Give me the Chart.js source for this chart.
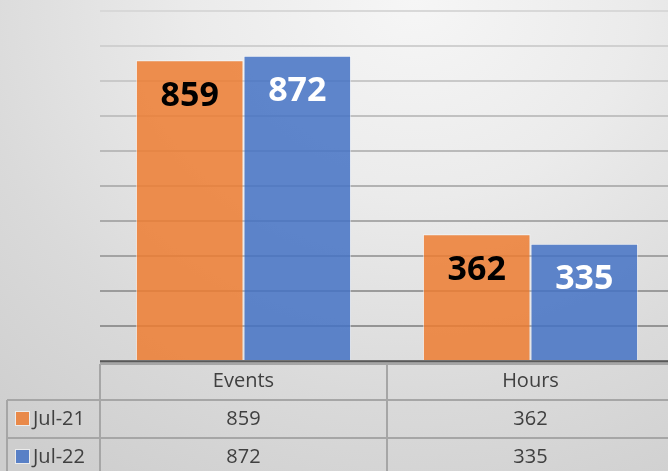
<!DOCTYPE html>
<html>
<head>
  <title>Events and Hours</title>
  <style>
    html, body { margin: 0; padding: 0; overflow: hidden; width: 668px; height: 471px; }
    body { background: radial-gradient(ellipse 95% 120% at 62% 0%, #f6f6f6 0%, #ebebeb 35%, #dadada 70%, #cecece 100%); }
    canvas { display: block; }
  </style>
</head>
<body>
  <canvas id="bar-chart" width="674" height="471"></canvas>

  <script src="https://cdn.jsdelivr.net/npm/chart.js"></script>
  <script>
    // Data
    const categories = ['Events', 'Hours'];
    const seriesNames = ['Jul-21', 'Jul-22'];
    const jul21 = [859, 362];
    const jul22 = [872, 335];
    const seriesColors = ['rgba(237, 125, 49, 0.85)', 'rgba(68, 114, 196, 0.85)'];
    const labelColors = ['#000000', '#ffffff'];

    const textFont = "'Open Sans', 'Noto Sans', sans-serif";

    // Gridlines get darker toward the bottom
    function gridColor(ctx) {
      const v = ctx.tick ? ctx.tick.value : 0;
      const t = v / 1000;
      const c = Math.round(140 + (216 - 140) * t);
      return 'rgb(' + c + ',' + c + ',' + c + ')';
    }

    // Value labels inside the top of each bar
    const barLabels = {
      id: 'barLabels',
      afterDatasetsDraw(chart) {
        const ctx = chart.ctx;
        ctx.save();
        ctx.font = 'bold 34px ' + textFont;
        ctx.textAlign = 'center';
        ctx.textBaseline = 'middle';
        chart.data.datasets.forEach((ds, i) => {
          const meta = chart.getDatasetMeta(i);
          ctx.fillStyle = labelColors[i];
          meta.data.forEach((bar, j) => {
            ctx.fillText(ds.data[j], bar.x, bar.y + 36);
          });
        });
        ctx.restore();
      }
    };

    // Data table under the plot
    const dataTable = {
      id: 'dataTable',
      afterDraw(chart) {
        const ctx = chart.ctx;
        const area = chart.chartArea;
        const x = chart.scales.x;
        const colW = (area.right - area.left) / categories.length;
        const top = area.bottom;
        const rowH = 38;
        const legendLeft = 7;
        const bottom = chart.height;
        ctx.save();

        // table grid
        ctx.strokeStyle = '#a6a6a6';
        ctx.lineWidth = 2;
        ctx.beginPath();
        ctx.moveTo(area.left, top + 3); ctx.lineTo(area.right, top + 3);
        ctx.moveTo(legendLeft, top + 1 + rowH); ctx.lineTo(area.right, top + 1 + rowH);
        ctx.moveTo(legendLeft, top + 1 + 2 * rowH); ctx.lineTo(area.right, top + 1 + 2 * rowH);
        for (let i = 0; i <= categories.length; i++) {
          const cx = area.left + i * colW;
          ctx.moveTo(cx, top + 3); ctx.lineTo(cx, bottom);
        }
        ctx.moveTo(legendLeft, top + 1 + rowH); ctx.lineTo(legendLeft, bottom);
        ctx.stroke();

        // axis line
        ctx.strokeStyle = '#595959';
        ctx.beginPath();
        ctx.moveTo(area.left, top + 0.5); ctx.lineTo(area.right, top + 0.5);
        ctx.stroke();

        // texts
        ctx.fillStyle = '#404040';
        ctx.font = '20px ' + textFont;
        ctx.textAlign = 'center';
        ctx.textBaseline = 'middle';
        categories.forEach((c, i) => {
          ctx.fillText(c, x.getPixelForValue(i), top + 20);
        });
        chart.data.datasets.forEach((ds, r) => {
          const cy = top + 58 + r * rowH;
          ds.data.forEach((v, i) => {
            ctx.fillText(v, x.getPixelForValue(i), cy);
          });
          // legend key
          ctx.fillStyle = seriesColors[r];
          ctx.fillRect(16, cy - 7, 13, 13);
          ctx.strokeStyle = 'rgba(255,255,255,0.6)';
          ctx.lineWidth = 1;
          ctx.strokeRect(15.5, cy - 7.5, 14, 14);
          ctx.fillStyle = '#404040';
          ctx.textAlign = 'left';
          ctx.fillText(ds.label, 33, cy);
          ctx.textAlign = 'center';
        });
        ctx.restore();
      }
    };

    const ctx = document.getElementById('bar-chart').getContext('2d');
    new Chart(ctx, {
      type: 'bar',
      data: {
        labels: categories,
        datasets: [{
          label: seriesNames[0],
          data: jul21,
          backgroundColor: seriesColors[0],
          borderColor: 'rgba(255, 255, 255, 0.55)',
          borderWidth: 1
        }, {
          label: seriesNames[1],
          data: jul22,
          backgroundColor: seriesColors[1],
          borderColor: 'rgba(255, 255, 255, 0.55)',
          borderWidth: 1
        }]
      },
      options: {
        responsive: false,
        animation: false,
        categoryPercentage: 0.75,
        barPercentage: 1.0,
        layout: { padding: { top: 11, bottom: 110, left: 100, right: 0 } },
        plugins: {
          legend: { display: false },
          tooltip: { enabled: false }
        },
        scales: {
          x: { display: false },
          y: {
            min: 0,
            max: 1000,
            ticks: { display: false, stepSize: 100 },
            border: { display: false },
            grid: { drawTicks: false, color: gridColor, lineWidth: 2 },
            afterFit: (s) => { s.width = 0; }
          }
        }
      },
      plugins: [barLabels, dataTable]
    });
  </script>
</body>
</html>
